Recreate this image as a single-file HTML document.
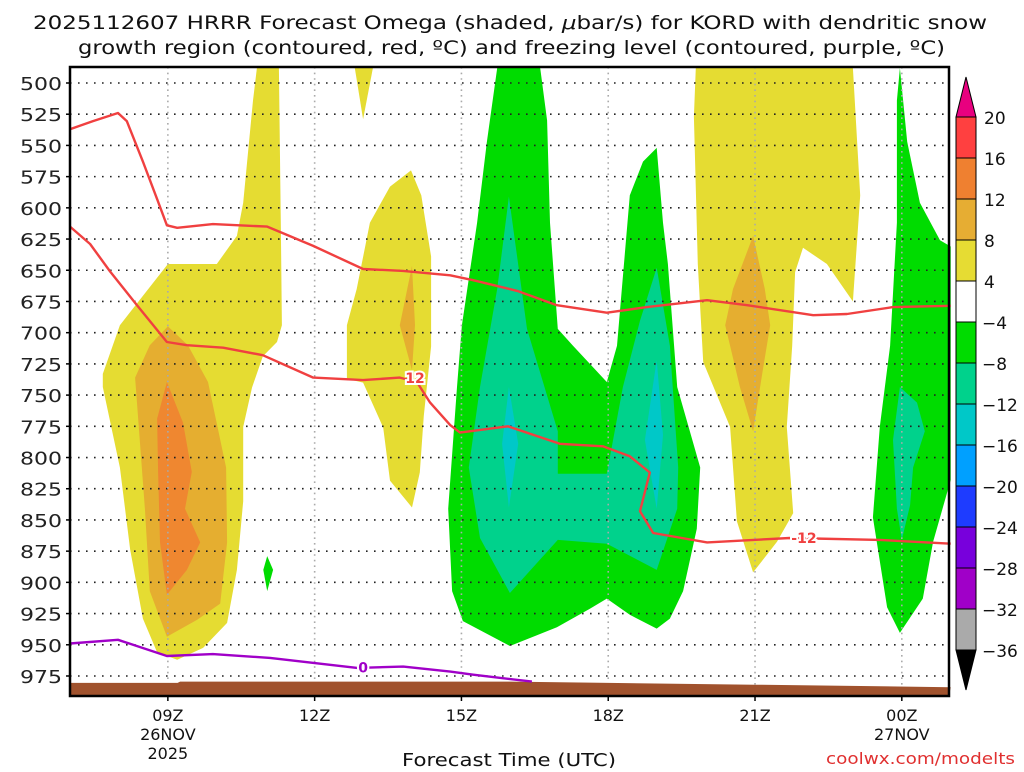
<!DOCTYPE html>
<html><head><meta charset="utf-8">
<style>
html,body{margin:0;padding:0;background:#fff;}
body{width:1024px;height:768px;overflow:hidden;font-family:"DejaVu Sans","Liberation Sans",sans-serif;}
svg text{font-family:"DejaVu Sans","Liberation Sans",sans-serif;}
</style></head>
<body>
<svg id="chart" width="1024" height="768" xmlns="http://www.w3.org/2000/svg">
<g>
<text x="33" y="29" font-size="19" textLength="954" lengthAdjust="spacingAndGlyphs" fill="#111">2025112607 HRRR Forecast Omega (shaded, <tspan font-style="italic">μ</tspan>bar/s) for KORD with dendritic snow</text>
<text x="78" y="54" font-size="19" textLength="867" lengthAdjust="spacingAndGlyphs" fill="#111">growth region (contoured, red, ºC) and freezing level (contoured, purple, ºC)</text>
</g>
<g id="shades"></g>
<g id="grid"></g>
<g id="ground"></g>
<g id="lines"></g>
<g id="axes"></g>
<g id="cbar"></g>
<text x="402" y="766" font-size="18" textLength="214" lengthAdjust="spacingAndGlyphs" fill="#111">Forecast Time (UTC)</text>
<text x="826" y="764" font-size="16" textLength="189" lengthAdjust="spacingAndGlyphs" fill="#e03030">coolwx.com/modelts</text>
</svg>
<script>
// ---- data (hours since 00Z 26NOV, pressure hPa) ----
const pressureTicks = [500,525,550,575,600,625,650,675,700,725,750,775,800,825,850,875,900,925,950,975];
const timeTicks = [9,12,15,18,21,24];
const timeTickLabels = [["09Z","26NOV","2025"],["12Z"],["15Z"],["18Z"],["21Z"],["00Z","27NOV"]];
const cbarLevels = ["20","16","12","8","4","-4","-8","-12","-16","-20","-24","-28","-32","-36"];
const cbarColors = ["#ff4040","#ef8030","#e6ad33","#e6dc33","#ffffff","#00dc00","#00d28c","#00c8c8","#00a0ff","#1e3cff","#7800dc","#a000c8","#aaaaaa"];

const yellowRegions = [
 [[10.82,488],[11.27,488],[11.31,618.5],[11.33,694],[11.23,707.5],[10.94,719],[10.72,744],[10.54,775.5],[10.54,835],[10.41,890],[10.21,932.5],[9.72,952.5],[9.19,962],[8.78,956],[8.49,929],[8.23,874],[8.02,808],[7.67,743.5],[7.67,733],[8.02,694],[9.0,645],[10.0,645],[10.41,622.5],[10.54,596],[10.74,514]],
 [[12.82,488],[13.19,488],[12.99,529]],
 [[13.97,570],[14.18,590],[14.38,639],[14.38,711],[14.23,766.5],[14.15,812],[13.99,840],[13.54,818.5],[13.4,776],[12.99,740],[12.66,737],[12.66,694],[12.86,665],[13.13,612],[13.54,583]],
 [[19.79,488],[23.0,488],[23.15,590],[23.0,675],[22.47,645],[21.98,632],[21.82,651.5],[21.76,710.5],[21.65,775.5],[21.78,844.5],[21.45,867.5],[20.96,892],[20.63,851],[20.49,775.5],[19.94,723.5],[19.83,645],[19.75,527]]
];
const orangeRegions = [
 [[9.0,695],[9.41,710],[9.82,739.5],[10.19,808],[10.21,868],[10.07,917],[9.6,930],[8.98,943.5],[8.63,907],[8.53,841],[8.33,736],[8.63,710]],
 [[13.99,646.5],[14.05,694],[13.99,730],[13.74,694]],
 [[20.96,622.5],[21.2,665],[21.31,694],[21.16,730],[20.96,779],[20.69,743.5],[20.39,694],[20.55,665]]
];
const deepOrangeRegions = [
 [[8.98,739.5],[9.31,772],[9.49,811.5],[9.35,841],[9.66,868],[9.39,890],[8.98,910],[8.84,868],[8.8,811.5],[8.78,769]]
];
const greenRegions = [
 [[11.03,879],[11.15,890],[11.03,907],[10.95,890]],
 [[15.73,488],[16.61,488],[16.75,530],[16.81,612],[16.97,697],[17.28,710.5],[17.97,739.5],[18.18,710.5],[18.44,590],[18.71,563],[18.99,552],[19.12,612],[19.22,645],[19.41,743.5],[19.88,808],[19.81,857],[19.53,907],[19.26,929],[18.99,937],[18.44,926],[17.97,913],[17.63,921],[16.95,936],[15.99,951],[15.03,931],[14.81,907],[14.73,841],[14.91,743.5],[15.01,694],[15.32,612],[15.52,547]],
 [[23.96,488],[24.11,547],[24.37,596],[24.78,626],[25.0,631],[25.0,818],[24.64,867.5],[24.43,913],[23.96,940.5],[23.7,920],[23.41,848],[23.55,775.5],[23.76,710.5],[23.9,612],[23.9,514]]
];
const tealRegions = [
 [[15.97,591],[16.34,697],[16.97,779],[16.97,813],[17.97,813],[18.3,743.5],[18.65,690.5],[18.99,648],[19.26,710.5],[19.43,808],[19.41,841],[18.99,890],[17.97,869],[16.97,866],[15.99,908.5],[15.38,864.5],[15.15,808],[15.38,743.5],[15.73,665]],
 [[23.96,743.5],[24.31,756],[24.47,779],[24.23,808],[24.17,838],[24.0,866],[23.9,841],[23.82,786]]
];
const cyanRegions = [
 [[15.97,743.5],[16.16,789],[15.97,840],[15.83,789]],
 [[18.99,722],[19.12,782],[18.99,841],[18.75,786]]
];
const dgzUpperTimes = [7,7.47,7.98,8.16,8.49,8.78,8.98,9.19,9.92,11.03,11.97,12.99,13.81,14.77,15.24,16.14,16.95,17.97,18.79,20.02,20.84,22.19,22.88,23.82,25];
const dgzUpperPres  = [537,530.5,524,530.5,563,593,614,616,613,615,630.5,649,650.5,654,658,666.5,678,684,679.5,674,678,686,685,679.5,678.5];
const dgzLowerTimes = [7,7.41,7.82,8.37,8.98,9.39,10.13,10.94,11.97,12.99,13.74,14.09,14.36,14.77,14.97,15.95,17.01,17.89,18.44,18.85,18.65,18.92,20.02,21.71,23.55,25];
const dgzLowerPres  = [615,629,651,678,707.5,710,712,718,736,738,736,739.5,756,774,780,775,789,791,799,812,843,860.5,868,864.5,866,869];
const frzTimes = [7,7.98,8.98,9.92,11.09,12.87,13.81,14.77,15.24,16.44];
const frzPres  = [949,946,959,957.5,960.5,968.5,967.5,971.5,974,979.5];
const groundTimes = [7,9.2,9.25,16,18,21,25];
const groundPres  = [980.5,980.5,979.5,979.5,980.5,982,984];

// ---- axes functions ----
const X0=70, X1=949, Y0=67, Y1=696;
function xs(h){return X0+(h-7)*48.93;}
function ys(p){return 83+(p-500)*1.2484;}
const NS="http://www.w3.org/2000/svg";
function mk(tag,attrs,parent){const e=document.createElementNS(NS,tag);for(const k in attrs)e.setAttribute(k,attrs[k]);parent.appendChild(e);return e;}
function pts(arr){return arr.map(d=>xs(d[0]).toFixed(1)+","+ys(d[1]).toFixed(1)).join(" ");}

const shades=document.getElementById('shades');
function drawRegions(list,color,name){
  list.forEach(r=>{
    const el=mk('polygon',{points:pts(r),fill:color},shades);
    
    
  });
}
drawRegions(yellowRegions,'#e5dc32','omega-4-to-8');
drawRegions(orangeRegions,'#e5ae30','omega-8-to-12');
drawRegions(deepOrangeRegions,'#ef8730','omega-12-to-16');
drawRegions(greenRegions,'#00dc00','omega-neg4-to-neg8');
drawRegions(tealRegions,'#00d28c','omega-neg8-to-neg12');
drawRegions(cyanRegions,'#00c8c8','omega-neg12-to-neg16');

// grid
const grid=document.getElementById('grid');
pressureTicks.forEach(p=>{
  const l=mk('line',{x1:X0,x2:X1,y1:ys(p),y2:ys(p),stroke:'#222','stroke-width':1.6,'stroke-dasharray':'1.6 6.4'},grid);
  
  
});
timeTicks.forEach(t=>{
  const l=mk('line',{x1:xs(t),x2:xs(t),y1:Y0,y2:Y1,stroke:'#aaa','stroke-width':1.6,'stroke-dasharray':'1.6 4'},grid);
  
  
});

// ground
const ground=document.getElementById('ground');
let gp=groundTimes.map((t,i)=>[t,groundPres[i]]);
let gpts=pts(gp)+" "+X1+","+Y1+" "+X0+","+Y1;
const gEl=mk('polygon',{points:gpts,fill:'#a0522d'},ground);



// contour lines
const lines=document.getElementById('lines');
function line(ts,ps,color,name){
  const el=mk('polyline',{points:pts(ts.map((t,i)=>[t,ps[i]])),fill:'none',stroke:color,'stroke-width':2.4,'stroke-linejoin':'round'},lines);
  
  
}
line(dgzUpperTimes,dgzUpperPres,'#f04040','dgz-upper-contour');
line(dgzLowerTimes,dgzLowerPres,'#f04040','dgz-lower-contour');
line(frzTimes,frzPres,'#a000c8','freezing-level-contour');
function clabel(t,p,txt,color,name){
  const el=mk('text',{x:xs(t),y:ys(p)+5,'font-size':14,'font-weight':'bold','text-anchor':'middle',fill:color,stroke:'#fff','stroke-width':4,'paint-order':'stroke'},lines);
  el.textContent=txt;
  
  
}
clabel(14.05,736.5,'12','#f04040','dgz-label-12');
clabel(22.0,864.5,'-12','#f04040','dgz-label-neg12');
clabel(12.99,968,'0','#a000c8','freezing-label-0');

// axes
const axes=document.getElementById('axes');
const fr=mk('rect',{x:X0,y:Y0,width:X1-X0,height:Y1-Y0,fill:'none',stroke:'#000','stroke-width':2.5},axes);


pressureTicks.forEach(p=>{
  mk('line',{x1:X0-4,x2:X0,y1:ys(p),y2:ys(p),stroke:'#000','stroke-width':1.5},axes);
  const t=mk('text',{x:20,y:ys(p)+7,'font-size':18,textLength:42,lengthAdjust:'spacingAndGlyphs',fill:'#222'},axes);
  t.textContent=p;
  
  
});
timeTicks.forEach((tt,i)=>{
  mk('line',{x1:xs(tt),x2:xs(tt),y1:Y1,y2:Y1+5,stroke:'#000','stroke-width':1.5},axes);
  timeTickLabels[i].forEach((s,j)=>{
    const t=mk('text',{x:xs(tt),y:721+j*19,'font-size':16,'text-anchor':'middle',fill:'#111'},axes);
    t.textContent=s;
    
    
  });
});

// colorbar
const cb=document.getElementById('cbar');
const CX0=956, CX1=976, CT=117, CH=41;
const up=mk('polygon',{points:`${CX0},${CT} ${CX1},${CT} ${(CX0+CX1)/2},77`,fill:'#e8007f',stroke:'#000','stroke-width':1},cb);


cbarColors.forEach((c,i)=>{
  const r=mk('rect',{x:CX0,y:CT+i*CH,width:CX1-CX0,height:CH,fill:c,stroke:'#000','stroke-width':1},cb);
  
  
});
const bot=CT+cbarColors.length*CH;
const dn=mk('polygon',{points:`${CX0},${bot} ${CX1},${bot} ${(CX0+CX1)/2},690`,fill:'#000',stroke:'#000','stroke-width':1},cb);


cbarLevels.forEach((s,i)=>{
  const t=mk('text',{x:s[0]==='-'?982:984,y:CT+i*CH+7,'font-size':17,fill:'#111'},cb);
  t.textContent=s.replace('-','\u2212');
  
  
});
</script>
</body></html>
